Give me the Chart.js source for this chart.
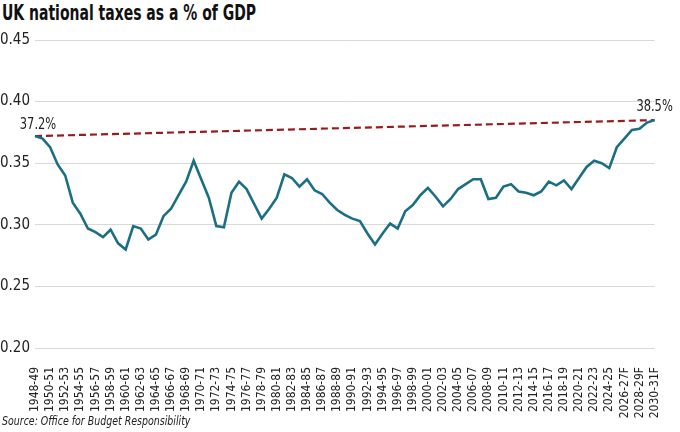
<!DOCTYPE html>
<html>
<head>
<meta charset="utf-8">
<script src="https://cdn.jsdelivr.net/npm/chart.js@4/dist/chart.umd.min.js"></script>
<style>
  body { margin: 0; background: #fff; }
  #wrap { position: relative; width: 680px; height: 432px; font-family: 'Liberation Sans Narrow', 'DejaVu Sans Condensed', Roboto, sans-serif; }
  #title { position: absolute; left: 2px; top: 1px; margin: 0; font-size: 21px; font-weight: bold; color: #111; transform: scaleX(0.74); transform-origin: left top; white-space: nowrap; }
  #chartBox { position: absolute; left: 0; top: 26px; width: 680px; height: 406px; }
  #source { position: absolute; left: 2px; top: 413px; font-size: 12.5px; font-style: italic; color: #222; transform: scaleX(0.84); transform-origin: left top; white-space: nowrap; }
</style>
</head>
<body>
<div id="wrap">
  <h1 id="title">UK national taxes as a % of GDP</h1>
  <div id="chartBox"><canvas id="chart"></canvas></div>
  <div id="source">Source: Office for Budget Responsibility</div>
</div>
<script>
// ===== DATA =====
const years = [
  '1948-49','1949-50','1950-51','1951-52','1952-53','1953-54','1954-55','1955-56','1956-57','1957-58',
  '1958-59','1959-60','1960-61','1961-62','1962-63','1963-64','1964-65','1965-66','1966-67','1967-68',
  '1968-69','1969-70','1970-71','1971-72','1972-73','1973-74','1974-75','1975-76','1976-77','1977-78',
  '1978-79','1979-80','1980-81','1981-82','1982-83','1983-84','1984-85','1985-86','1986-87','1987-88',
  '1988-89','1989-90','1990-91','1991-92','1992-93','1993-94','1994-95','1995-96','1996-97','1997-98',
  '1998-99','1999-00','2000-01','2001-02','2002-03','2003-04','2004-05','2005-06','2006-07','2007-08',
  '2008-09','2009-10','2010-11','2011-12','2012-13','2013-14','2014-15','2015-16','2016-17','2017-18',
  '2018-19','2019-20','2020-21','2021-22','2022-23','2023-24','2024-25','2025-26F','2026-27F','2027-28F',
  '2028-29F','2029-30F','2030-31F'
];

const taxShare = [
  0.372, 0.370, 0.363, 0.349, 0.340, 0.318, 0.309, 0.297, 0.294, 0.290,
  0.296, 0.285, 0.280, 0.299, 0.297, 0.288, 0.292, 0.307, 0.313, 0.324,
  0.335, 0.352, 0.337, 0.322, 0.299, 0.298, 0.326, 0.335, 0.329, 0.317,
  0.305, 0.313, 0.322, 0.341, 0.338, 0.331, 0.337, 0.328, 0.325, 0.318,
  0.312, 0.308, 0.305, 0.303, 0.293, 0.284, 0.293, 0.301, 0.297, 0.311,
  0.316, 0.324, 0.330, 0.323, 0.315, 0.321, 0.329, 0.333, 0.337, 0.337,
  0.321, 0.322, 0.331, 0.333, 0.327, 0.326, 0.324, 0.327, 0.335, 0.332,
  0.336, 0.329, 0.338, 0.347, 0.352, 0.350, 0.346, 0.363, 0.370, 0.377,
  0.378, 0.383, 0.385
];

// start and end of the dashed comparison line
const trendEnds   = [0.372, 0.385];
const trendLabels = ['37.2%', '38.5%'];

const yTicks = [0.20, 0.25, 0.30, 0.35, 0.40, 0.45];

// ===== CHART =====
const FONT = "'Liberation Sans Narrow', 'DejaVu Sans Condensed', Roboto, sans-serif";

const trendData = years.map((_, i) =>
  i === 0 ? trendEnds[0] : (i === years.length - 1 ? trendEnds[1] : null));

// labels at the ends of the dashed line (drawn a bit narrow, like the original)
const endLabels = {
  id: 'endLabels',
  afterDatasetsDraw(chart) {
    const { ctx, scales: { x, y } } = chart;
    const last = years.length - 1;
    const put = (txt, px, py) => {
      ctx.save();
      ctx.translate(px, py);
      ctx.scale(0.85, 1);
      ctx.fillText(txt, 0, 0);
      ctx.restore();
    };
    ctx.save();
    ctx.font = '15px ' + FONT;
    ctx.fillStyle = '#222';
    ctx.textAlign = 'center';
    ctx.textBaseline = 'bottom';
    put(trendLabels[0], x.getPixelForValue(0) + 3, y.getPixelForValue(trendEnds[0]) - 3);
    put(trendLabels[1], x.getPixelForValue(last), y.getPixelForValue(trendEnds[1]) - 5);
    ctx.restore();
  }
};

new Chart(document.getElementById('chart'), {
  type: 'line',
  data: {
    labels: years,
    datasets: [
      {
        data: trendData,
        borderColor: '#9a1b1f',
        borderWidth: 2.2,
        borderDash: [7, 4],
        pointRadius: 0,
        spanGaps: true,
        order: 2
      },
      {
        data: taxShare,
        borderColor: '#1b6f83',
        borderWidth: 2.6,
        pointRadius: 0,
        tension: 0,
        order: 1
      }
    ]
  },
  options: {
    responsive: true,
    maintainAspectRatio: false,
    animation: false,
    layout: { padding: { top: 0, right: 23, left: 0, bottom: 0 } },
    plugins: { legend: { display: false }, tooltip: { enabled: false } },
    scales: {
      x: {
        offset: false,
        grid: { display: false },
        border: { display: false },
        afterFit: s => { s.height = 84; },
        ticks: {
          autoSkip: false,
          maxRotation: 90,
          minRotation: 90,
          padding: 11,
          color: '#222',
          font: { family: FONT, size: 12 },
          callback: (v, i) => i % 2 === 0 ? years[i] : ''
        }
      },
      y: {
        min: 0.20,
        max: 0.45,
        afterBuildTicks: s => { s.ticks = yTicks.map(v => ({ value: v })); },
        afterFit: s => { s.width = 35; },
        grid: { color: '#d9d9d9', lineWidth: 1, drawTicks: false },
        border: { display: false },
        ticks: {
          padding: 5,
          color: '#222',
          font: { family: FONT, size: 15 },
          callback: v => v.toFixed(2)
        }
      }
    }
  },
  plugins: [endLabels]
});
</script>
</body>
</html>
